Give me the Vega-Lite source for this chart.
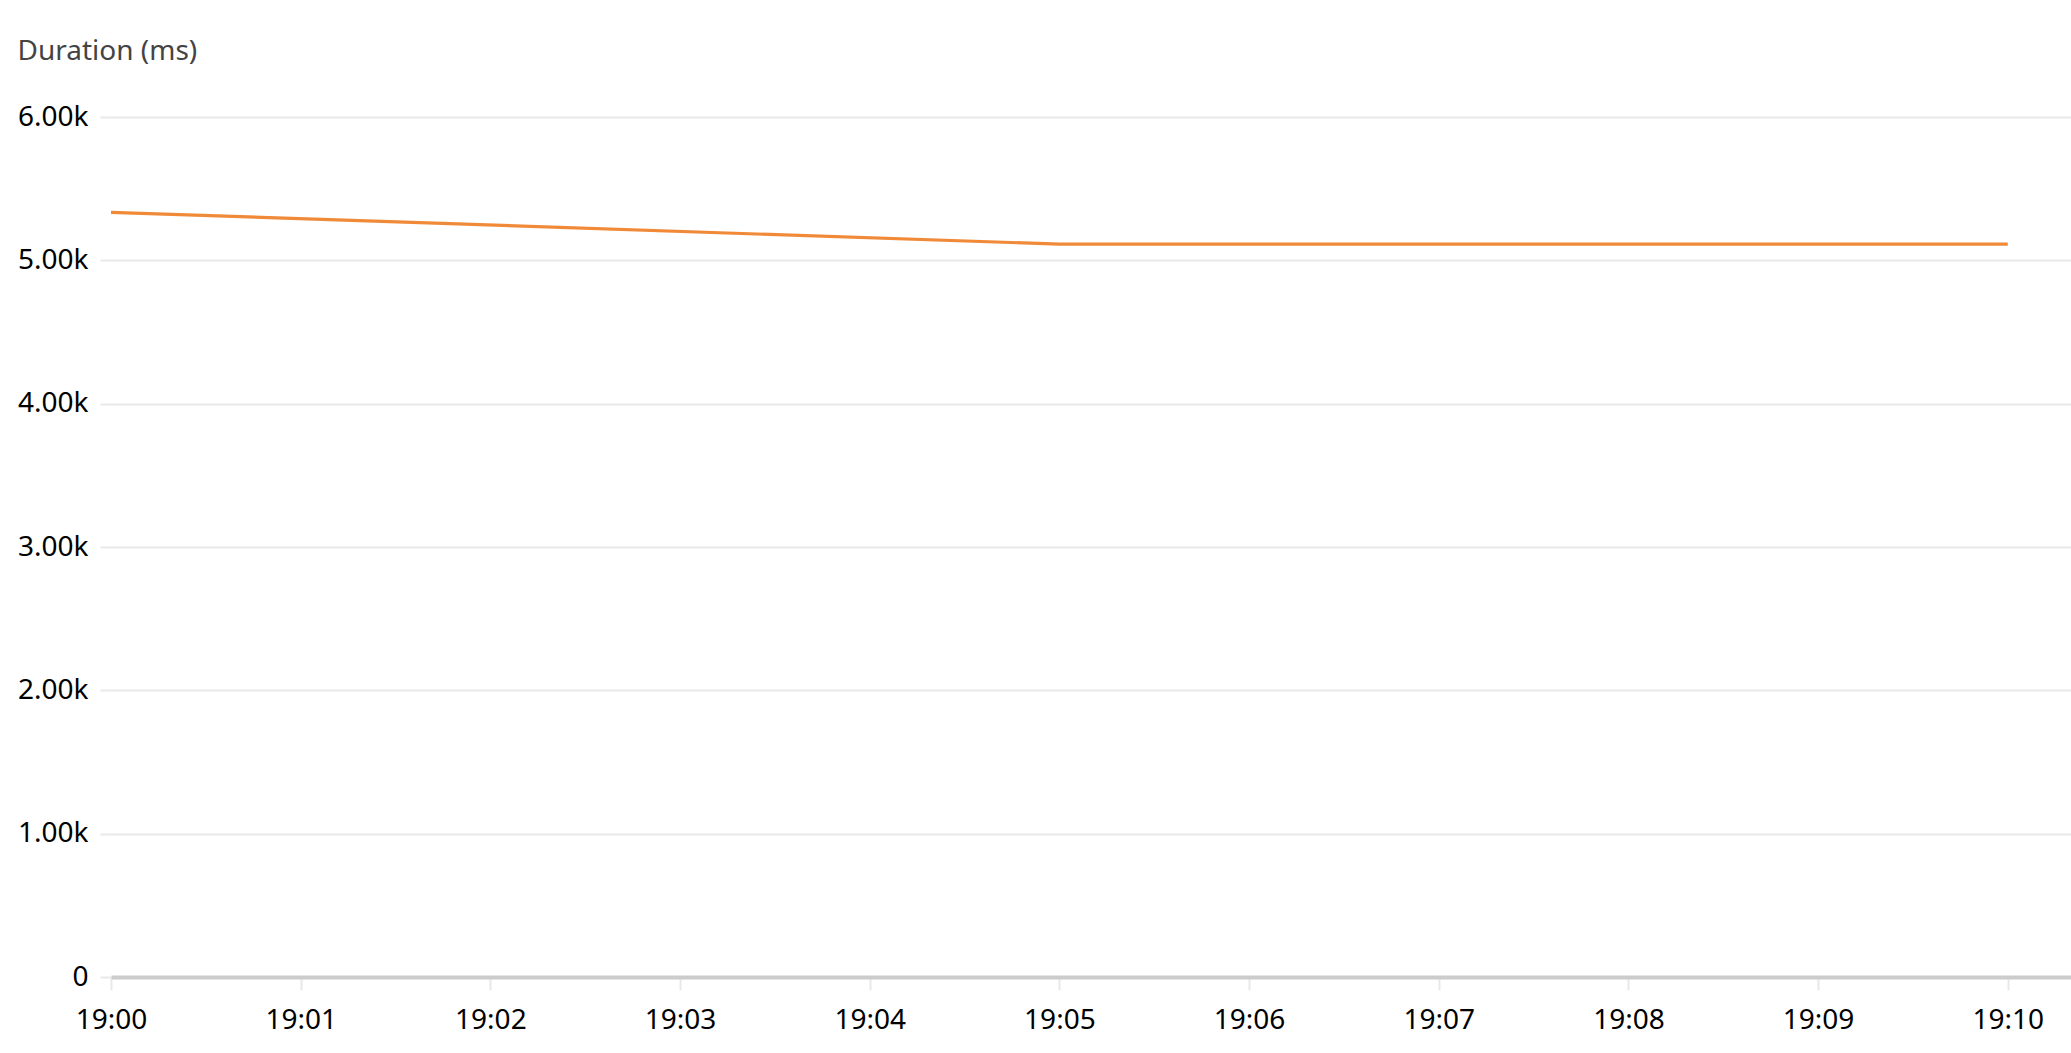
{
  "$schema": "https://vega.github.io/schema/vega-lite/v6.json",
  "description": "Duration (ms) over ten minutes, one orange line.",
  "width": 2071,
  "height": 1053,
  "autosize": {"type": "fit", "contains": "padding"},
  "padding": {"left": 17, "top": 38, "right": 0, "bottom": 19},
  "background": "white",
  "title": {
    "text": "Duration (ms)",
    "anchor": "start",
    "frame": "bounds",
    "fontSize": 28,
    "fontWeight": "normal",
    "font": "Noto Sans",
    "color": "#444444",
    "offset": 37
  },
  "data": {
    "values": [
      {"time": "2024-01-01T19:00:00", "duration": 5335},
      {"time": "2024-01-01T19:05:00", "duration": 5113},
      {"time": "2024-01-01T19:10:00", "duration": 5113}
    ]
  },
  "mark": {"type": "line", "color": "#f08a38", "strokeWidth": 3.2},
  "encoding": {
    "x": {
      "field": "time",
      "type": "temporal",
      "scale": {"domain": [
        {"year": 2024, "month": 1, "date": 1, "hours": 19, "minutes": 0},
        {"year": 2024, "month": 1, "date": 1, "hours": 19, "minutes": 10, "seconds": 20}
      ]},
      "axis": {
        "title": null,
        "format": "%H:%M",
        "tickCount": "minute",
        "grid": false,
        "domain": true,
        "domainColor": "#cccccc",
        "domainWidth": 4,
        "ticks": true,
        "tickColor": "#e8e8e8",
        "tickWidth": 2,
        "tickSize": 13,
        "labelPadding": 16,
        "labelFontSize": 28,
        "labelFont": "Noto Sans",
        "labelColor": "#000000",
        "labelFlush": false
      }
    },
    "y": {
      "field": "duration",
      "type": "quantitative",
      "scale": {"domain": [0, 6000], "nice": false},
      "axis": {
        "title": null,
        "values": [0, 1000, 2000, 3000, 4000, 5000, 6000],
        "format": ".2~s",
        "labelExpr": "datum.value == 0 ? '0' : format(datum.value / 1000, '.2f') + 'k'",
        "grid": true,
        "gridColor": "#e8e8e8",
        "gridWidth": 2,
        "domain": false,
        "ticks": true,
        "tickColor": "#e8e8e8",
        "tickWidth": 2,
        "tickSize": 11,
        "labelPadding": 12,
        "labelFontSize": 28,
        "labelFont": "Noto Sans",
        "labelColor": "#000000"
      }
    }
  },
  "config": {
    "view": {"stroke": null}
  }
}
